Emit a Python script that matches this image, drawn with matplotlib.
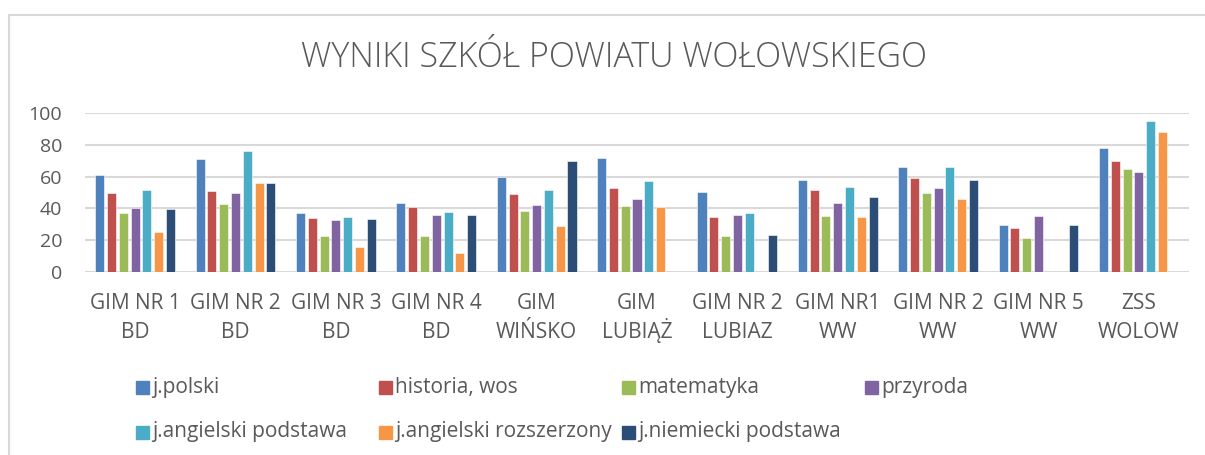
import numpy as np
import matplotlib
matplotlib.use("Agg")
import matplotlib.pyplot as plt
from matplotlib.patches import Rectangle

school_line1 = ["GIM NR 1", "GIM NR 2", "GIM NR 3", "GIM NR 4", "GIM", "GIM", "GIM NR 2",
                "GIM NR1", "GIM NR 2", "GIM NR 5", "ZSS"]
school_line2 = ["BD", "BD", "BD", "BD", "WIŃSKO", "LUBIĄŻ", "LUBIAZ", "WW", "WW", "WW", "WOLOW"]
nan = np.nan
j_polski = [61, 71, 37, 43.5, 59.5, 72, 50.5, 57.7, 66, 29.7, 78.3]
historia_wos = [49.6, 51.2, 34, 41, 49.3, 53, 34.7, 51.6, 59.2, 27.6, 70.1]
matematyka = [37, 42.7, 22.3, 22.6, 38.3, 41.3, 22.3, 35.4, 49.5, 21.3, 64.8]
przyroda = [40.4, 49.5, 32.4, 35.8, 42.1, 46, 35.6, 43.2, 52.6, 34.9, 62.9]
ang_podstawa = [51.6, 76.4, 34.5, 37.7, 51.8, 57.5, 36.8, 53.3, 66.3, nan, 94.9]
ang_rozszerzony = [24.8, 55.8, 15.8, 11.6, 29, 40.6, nan, 34.3, 45.7, nan, 88.2]
niem_podstawa = [39.8, 56, 33, 35.6, 69.7, nan, 22.9, 46.9, 57.7, 29.3, nan]

series = [
    ("j.polski", j_polski, "#4F81BD"),
    ("historia, wos", historia_wos, "#C0504D"),
    ("matematyka", matematyka, "#9BBB59"),
    ("przyroda", przyroda, "#8064A2"),
    ("j.angielski podstawa", ang_podstawa, "#4BACC6"),
    ("j.angielski rozszerzony", ang_rozszerzony, "#F79646"),
    ("j.niemiecki podstawa", niem_podstawa, "#2C4D75"),
]

TXT = "#595959"
GRID = "#D9D9D9"
plt.rcParams.update({"font.family": ["Open Sans", "DejaVu Sans"]})

W, H = 1205, 455
Y0, Y100 = 271.7, 113.3   # pixel rows of the 0 and 100 gridlines
fig = plt.figure(figsize=(W / 100, H / 100), dpi=100)
ax = fig.add_axes([85 / W, 1 - Y0 / H, (1189 - 85) / W, (Y0 - Y100) / H])

# outer chart border (runs off the right and bottom edges)
fig.patches.append(Rectangle((9 / W, -0.2), 1.2, 1 - 15 / H + 0.2, transform=fig.transFigure,
                             fill=False, edgecolor=GRID, lw=1.5))

x = np.arange(len(school_line1))
slot = 0.1175
bw = 0.09
for i, (name, vals, col) in enumerate(series):
    off = (i - 3) * slot
    ax.bar(x + off, vals, width=bw, color=col, edgecolor="white", linewidth=0.4, zorder=3)

ax.set_xlim(-0.5, len(x) - 0.5)
ax.set_ylim(0, 100)
ax.set_yticks(range(0, 101, 20))
ax.yaxis.grid(True, color=GRID, lw=1.5, zorder=0)
for s in ax.spines.values():
    s.set_visible(False)
ax.tick_params(axis="y", length=0, pad=16.5, labelsize=14, labelcolor=TXT)
ax.set_xticks(x)
ax.set_xticklabels([])
ax.tick_params(axis="x", length=0)

# two-line category labels, each line on its own baseline so accents don't shift the rows
trans = ax.get_xaxis_transform()
for xi, l1, l2 in zip(x, school_line1, school_line2):
    ax.text(xi, -(309 - Y0) / (Y0 - Y100), l1, transform=trans, ha="center", va="baseline",
            fontsize=15, color=TXT, clip_on=False)
    ax.text(xi, -(338 - Y0) / (Y0 - Y100), l2, transform=trans, ha="center", va="baseline",
            fontsize=15, color=TXT, clip_on=False)

fig.text(614 / W, 1 - 58 / H, "WYNIKI SZKÓŁ POWIATU WOŁOWSKIEGO", ha="center", va="center",
         fontsize=24.5, fontweight="light", color=TXT)

# legend laid out like the Excel one: 4 equal columns, 2 rows
for i, (name, vals, col) in enumerate(series):
    r, c = divmod(i, 4)
    lx = 136 + c * 243
    ly = 387 + r * 45
    fig.patches.append(Rectangle((lx / W, 1 - (ly + 7) / H), 13 / W, 13 / H,
                                 transform=fig.transFigure, color=col))
    fig.text((lx + 16) / W, 1 - ly / H, name, ha="left", va="center", fontsize=15, color=TXT)

fig.savefig("out.png", dpi=100, facecolor="white")
